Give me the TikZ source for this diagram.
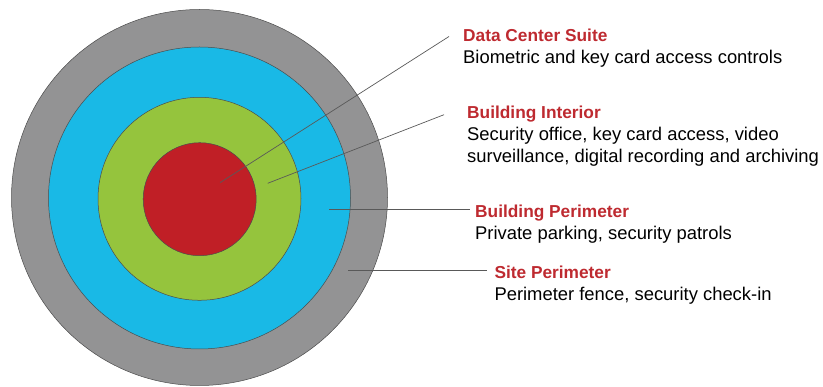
\documentclass[tikz,border=0pt]{standalone}
\usepackage{fontspec}
\setmainfont{Liberation Sans}
\begin{document}
\begin{tikzpicture}[x=1pt,y=-1pt,
  ring/.style={circle,draw=black!70,line width=0.5pt,inner sep=0pt},
  leader/.style={draw=black!65,line width=0.7pt},
  title/.style={anchor=base west,inner sep=0pt,text=zoneRed,font=\fontsize{17.3}{21}\selectfont\bfseries},
  desc/.style={anchor=base west,inner sep=0pt,text=black,font=\fontsize{18.4}{22}\selectfont}]
\definecolor{siteGray}{HTML}{939394}
\definecolor{perimBlue}{HTML}{19B9E6}
\definecolor{interiorGreen}{HTML}{95C43D}
\definecolor{suiteRed}{HTML}{C01F26}
\definecolor{zoneRed}{HTML}{BE2A30}
\useasboundingbox (0,0) rectangle (823,387);

% concentric zones
\node[ring,fill=siteGray,minimum size=376pt] (site) at (199.5,197.5) {};
\node[ring,fill=perimBlue,minimum size=302pt] (perim) at (199.5,198) {};
\node[ring,fill=interiorGreen,minimum size=203pt] (interior) at (199.5,198.8) {};
\node[ring,fill=suiteRed,minimum size=113pt] (suite) at (199.7,199.2) {};

% labels
\node[title] (suiteT) at (463,41.5) {Data Center Suite};
\node[desc] (suiteD) at (463,63.5) {Biometric and key card access controls};
\node[title] (interiorT) at (467,119) {Building Interior};
\node[desc] (interiorD1) at (467,141) {Security office, key card access, video};
\node[desc] (interiorD2) at (467,163) {surveillance, digital recording and archiving};
\node[title] (perimT) at (475,217.3) {Building Perimeter};
\node[desc] (perimD) at (475,239.3) {Private parking, security patrols};
\node[title] (siteT) at (494.3,278.3) {Site Perimeter};
\node[desc] (siteD) at (494.3,300.5) {Perimeter fence, security check-in};

% leader lines
\coordinate (suiteP) at (220,182.7);
\coordinate (suiteE) at (449,36.5);
\coordinate (interiorP) at (267.7,183.3);
\coordinate (interiorE) at (444,114.7);
\coordinate (perimP) at (329,209.3);
\coordinate (perimE) at (469.5,209.3);
\coordinate (siteP) at (348.3,270);
\coordinate (siteE) at (486.7,270);
\draw[leader] (suiteP) -- (suiteE);
\draw[leader] (interiorP) -- (interiorE);
\draw[leader] (perimP) -- (perimE);
\draw[leader] (siteP) -- (siteE);
\end{tikzpicture}
\end{document}
